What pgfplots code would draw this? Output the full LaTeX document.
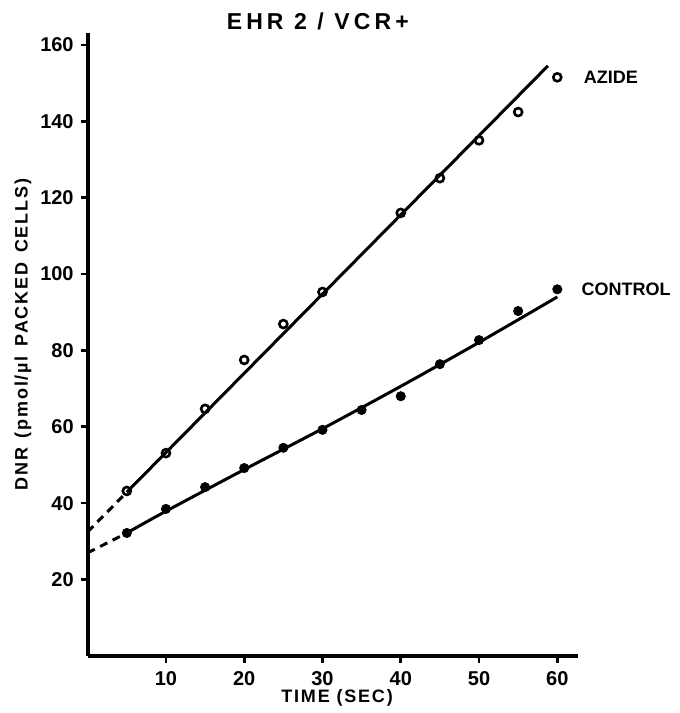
\documentclass[border=0pt]{standalone}
\usepackage{fontspec}
\setmainfont{Liberation Sans}
\newfontfamily\titlefont{Liberation Sans}[LetterSpace=18]
\newfontfamily\labfont{Liberation Sans}[LetterSpace=10]
\usepackage{pgfplots}
\pgfplotsset{compat=1.18}

\begin{document}
\begin{tikzpicture}
\begin{axis}[at={(0,0)}, anchor=origin, scale only axis,
  width=245pt, height=311.3pt,
  xmin=0, xmax=62.6, ymin=0, ymax=163,
  axis x line=bottom, axis y line=left,
  axis line style={-, line width=2pt},
  xtick={10,20,30,40,50,60}, ytick={20,40,...,160},
  tick align=outside, major tick length=3.5pt,
  major tick style={line width=1.3pt, black},
  tick label style={font=\bfseries\fontsize{10}{12}\selectfont},
  /pgf/number format/assume math mode=true,
  xticklabel style={yshift=-1pt},
  xlabel={\labfont\bfseries TIME (SEC)},
  ylabel={\labfont\bfseries DNR \,(pmol/µl \,PACKED \,CELLS)},
  label style={font=\bfseries\fontsize{9}{11}\selectfont},
  xlabel style={at={(axis description cs:0.509,0)}, anchor=center, yshift=-21pt},
  ylabel style={at={(axis description cs:-0.132,0.516)}, anchor=center, rotate=0},
  clip=false]
% azide
\addplot[black, line width=1.5pt, dashed, dash pattern=on 4pt off 3pt] coordinates {(0,32.5) (5,42.9)};
\addplot[black, line width=1.5pt] coordinates {(5,42.9) (58.8,154.5)};
\addplot[only marks, mark=o, mark size=2pt, mark options={line width=1.3pt, fill=white}] coordinates {
(5,43.2) (10,53.1) (15,64.7) (20,77.5) (25,86.9) (30,95.3) (40,116) (45,125.1) (50,135) (55,142.4) (60,151.5)};
% control
\addplot[black, line width=1.5pt, dashed, dash pattern=on 4pt off 3pt] coordinates {(0,27) (5,32.2)};
\addplot[black, line width=1.5pt, smooth] coordinates {(5,32.2) (10,37.9) (20,48.8) (30,59.5) (40,70.6) (50,82.1) (60,94)};
\addplot[only marks, mark=*, mark size=2.3pt, black] coordinates {
(5,32.2) (10,38.5) (15,44.2) (20,49.2) (25,54.5) (30,59.2) (35,64.4) (40,68) (45,76.4) (50,82.7) (55,90.3) (60,96)};
\node[anchor=west, font=\bfseries\fontsize{9}{11}\selectfont] at (axis cs:62.5,151.5) {AZIDE};
\node[anchor=west, font=\bfseries\fontsize{9}{11}\selectfont] at (axis cs:62.2,96) {CONTROL};
\node[font=\titlefont\bfseries\fontsize{11.5}{13}\selectfont] at (axis cs:29.4,166.2) {EHR 2 / VCR+};
\end{axis}
\path[use as bounding box] (-43.85pt,-28.5pt) rectangle (296.15pt,328pt);
\end{tikzpicture}
\end{document}
